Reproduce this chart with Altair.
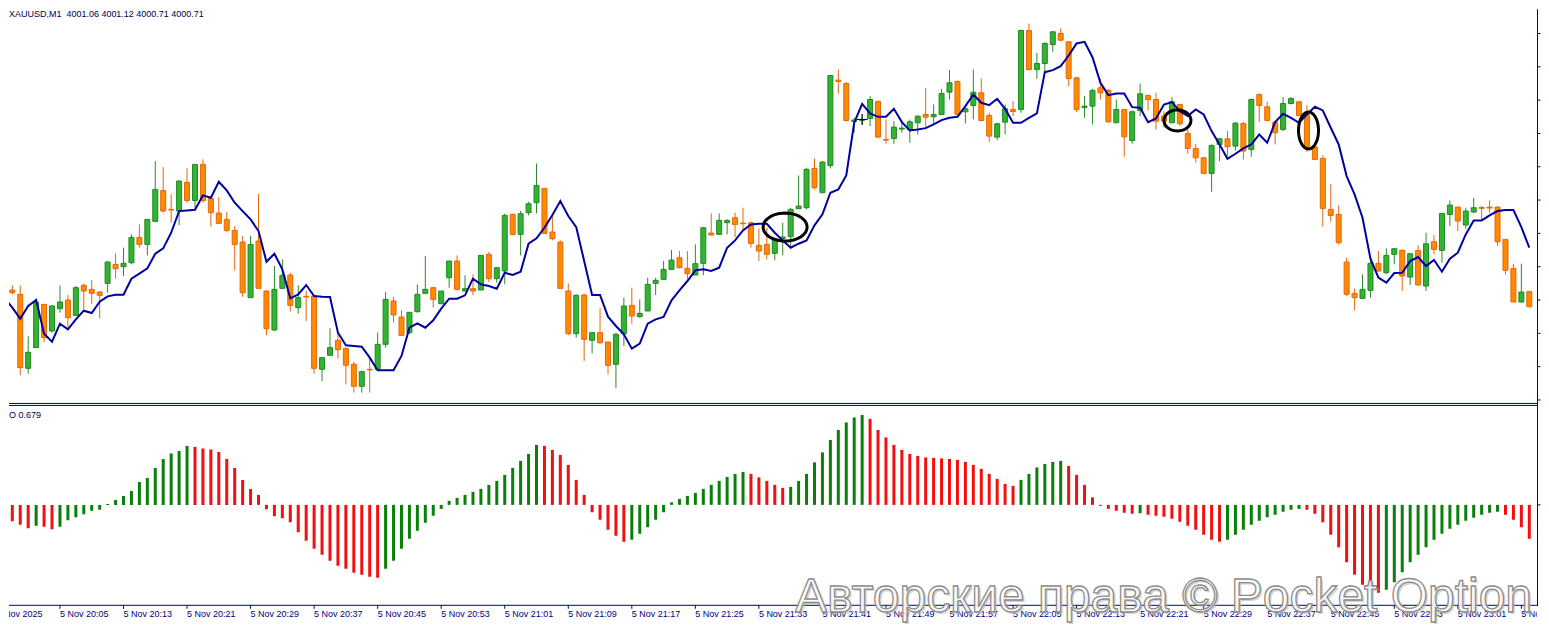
import math
import altair as alt
import pandas as pd
import numpy as np

# ---------------- data ----------------
candle_index = list(range(-1, 192))   # one candle per minute, index 0 = 19:59

opens = [
    4000.30, 4001.33, 4001.20, 3998.98, 3999.60, 4000.90, 4000.10, 4000.77, 4001.03, 4000.57,
    4001.47, 4001.35, 4001.27, 4001.53, 4002.10, 4002.03, 4002.15, 4002.91, 4002.70, 4003.39,
    4004.32, 4003.75, 4003.70, 4004.56, 4004.02, 4005.10, 4004.08, 4003.64, 4003.45, 4003.12,
    4002.77, 4001.10, 4002.80, 4001.30, 4000.13, 4001.38, 4001.78, 4000.80, 4001.14, 4001.15,
    3998.95, 3999.37, 3999.82, 3999.58, 3999.10, 3998.44, 3998.95, 3998.95, 3999.70, 4001.00,
    4000.52, 4000.05, 4000.68, 4001.23, 4001.40, 4000.92, 4001.70, 4002.20, 4001.30, 4001.37,
    4001.33, 4002.40, 4001.67, 4001.90, 4003.60, 4003.00, 4003.65, 4003.95, 4004.38, 4003.07,
    4002.77, 4001.30, 4000.02, 4001.18, 3999.82, 4000.05, 3999.77, 3999.10, 4000.02, 4000.87,
    4000.53, 4000.70, 4001.53, 4001.65, 4001.95, 4002.30, 4001.98, 4001.78, 4002.13, 4003.04,
    4003.00, 4003.35, 4003.50, 4003.34, 4003.35, 4002.67, 4002.70, 4002.43, 4002.88, 4002.93,
    4003.77, 4003.80, 4004.98, 4004.25, 4005.07, 4007.63, 4007.53, 4006.39, 4006.42, 4006.48,
    4006.99, 4005.85, 4005.88, 4006.16, 4006.15, 4006.35, 4006.60, 4006.53, 4006.60, 4007.27,
    4007.59, 4006.68, 4006.87, 4007.25, 4006.57, 4005.92, 4006.37, 4006.75, 4006.75, 4009.12,
    4007.95, 4008.13, 4008.70, 4009.03, 4008.78, 4007.70, 4006.81, 4006.85, 4007.40, 4007.32,
    4006.35, 4006.75, 4005.82, 4006.72, 4007.17, 4007.05, 4006.55, 4006.35, 4006.90, 4006.03,
    4005.58, 4005.30, 4004.83, 4005.70, 4005.87, 4005.65, 4006.33, 4005.55, 4007.20, 4006.83,
    4006.37, 4006.15, 4006.93, 4006.98, 4006.60, 4005.62, 4005.28, 4003.75, 4003.60, 4002.17,
    4001.23, 4001.08, 4001.32, 4002.13, 4001.85, 4002.40, 4002.52, 4001.72, 4002.52, 4001.45,
    4002.78, 4002.52, 4003.60, 4003.82, 4003.28, 4003.67, 4003.81, 4003.82, 4003.82, 4002.85,
    4001.98, 4000.97, 4001.28,
]
highs = [
    4001.25, 4001.47, 4001.47, 3999.94, 4001.05, 4000.90, 4000.88, 4001.47, 4001.18, 4001.45,
    4001.53, 4001.63, 4001.30, 4002.20, 4002.43, 4002.60, 4003.00, 4003.30, 4003.45, 4005.20,
    4005.02, 4004.20, 4004.63, 4004.98, 4005.10, 4005.25, 4004.13, 4004.12, 4003.67, 4003.25,
    4002.95, 4002.95, 4004.22, 4001.32, 4002.05, 4002.25, 4001.85, 4001.47, 4001.30, 4001.17,
    3999.30, 4000.18, 4000.05, 3999.60, 3999.17, 3998.90, 3999.30, 4000.05, 4001.27, 4001.13,
    4000.72, 4000.66, 4001.50, 4002.35, 4001.42, 4001.30, 4002.20, 4002.37, 4001.77, 4001.80,
    4002.37, 4002.47, 4002.00, 4003.62, 4003.62, 4003.70, 4003.98, 4005.13, 4004.38, 4003.55,
    4002.82, 4001.53, 4001.20, 4001.22, 4000.05, 4000.78, 3999.77, 4000.05, 4001.10, 4001.40,
    4001.05, 4001.70, 4001.70, 4002.20, 4002.53, 4002.50, 4002.50, 4002.70, 4003.22, 4003.63,
    4003.63, 4003.45, 4003.65, 4003.80, 4003.38, 4003.17, 4003.20, 4002.90, 4003.35, 4003.80,
    4004.77, 4005.00, 4005.28, 4005.20, 4007.77, 4007.95, 4007.57, 4006.50, 4006.60, 4007.15,
    4007.02, 4006.45, 4006.40, 4006.43, 4006.45, 4006.57, 4007.40, 4006.90, 4007.37, 4007.93,
    4007.62, 4006.85, 4007.95, 4007.68, 4006.65, 4006.35, 4006.90, 4007.00, 4009.15, 4009.33,
    4008.45, 4008.77, 4009.10, 4009.18, 4008.80, 4007.72, 4007.15, 4007.37, 4007.68, 4007.37,
    4007.05, 4006.75, 4006.72, 4007.53, 4007.20, 4007.25, 4006.70, 4007.12, 4006.92, 4006.15,
    4005.72, 4005.32, 4005.70, 4005.90, 4006.10, 4006.38, 4006.37, 4007.08, 4007.23, 4006.98,
    4006.40, 4007.12, 4007.12, 4007.00, 4006.88, 4005.65, 4005.37, 4004.50, 4003.87, 4002.30,
    4001.37, 4001.80, 4002.20, 4002.50, 4002.58, 4002.58, 4002.55, 4002.42, 4002.67, 4003.05,
    4002.98, 4003.63, 4004.02, 4003.83, 4003.80, 4004.10, 4003.85, 4004.02, 4003.85, 4002.85,
    4002.12, 4002.12, 4001.30,
]
lows = [
    4000.10, 4001.20, 3998.77, 3998.82, 3999.60, 3999.77, 4000.05, 4000.65, 4000.20, 4000.55,
    4000.75, 4000.92, 4000.48, 4001.25, 4001.67, 4001.75, 4002.10, 4002.60, 4002.37, 4003.39,
    4003.65, 4003.35, 4003.28, 4003.95, 4003.80, 4003.95, 4003.23, 4003.32, 4003.07, 4001.92,
    4001.13, 4001.10, 4001.38, 3999.97, 4000.10, 4001.38, 4000.68, 4000.62, 4000.40, 3998.82,
    3998.60, 3999.37, 3999.27, 3998.50, 3998.25, 3998.25, 3998.25, 3998.95, 3999.60, 4000.35,
    3999.97, 4000.00, 4000.65, 4001.23, 4000.80, 4000.90, 4001.40, 4001.32, 4001.30, 4001.17,
    4001.33, 4001.57, 4001.55, 4001.50, 4002.97, 4002.37, 4003.57, 4003.63, 4003.03, 4002.82,
    4001.38, 3999.97, 3999.90, 3999.20, 3999.43, 3999.70, 3998.80, 3998.38, 3999.65, 4000.32,
    4000.50, 4000.70, 4001.18, 4001.65, 4001.95, 4001.98, 4001.65, 4001.78, 4001.77, 4002.97,
    4003.00, 4003.00, 4002.92, 4003.13, 4002.60, 4002.20, 4002.25, 4002.22, 4002.37, 4002.65,
    4003.77, 4003.75, 4004.35, 4004.25, 4004.98, 4007.22, 4006.40, 4006.05, 4006.30, 4006.25,
    4005.90, 4005.72, 4005.72, 4006.05, 4005.75, 4006.00, 4006.22, 4006.28, 4006.59, 4007.05,
    4006.58, 4006.33, 4006.45, 4006.40, 4005.77, 4005.83, 4006.00, 4006.55, 4006.65, 4007.95,
    4007.67, 4007.90, 4008.48, 4008.80, 4007.45, 4006.67, 4006.50, 4006.30, 4007.05, 4006.35,
    4006.35, 4005.33, 4005.72, 4006.55, 4006.73, 4006.15, 4006.20, 4006.35, 4006.25, 4005.42,
    4005.15, 4004.83, 4004.28, 4005.20, 4005.35, 4005.52, 4005.25, 4005.33, 4006.38, 4006.40,
    4005.70, 4006.10, 4006.90, 4006.55, 4005.48, 4005.23, 4003.23, 4003.38, 4002.70, 4001.15,
    4000.72, 4001.08, 4001.10, 4001.88, 4001.80, 4002.10, 4001.30, 4001.48, 4001.48, 4001.30,
    4002.40, 4002.15, 4003.25, 4003.10, 4003.17, 4003.65, 4003.45, 4003.65, 4002.65, 4001.80,
    4000.97, 4000.95, 4000.80,
]
closes = [
    4001.10, 4001.25, 3999.00, 3999.46, 4000.95, 3999.90, 4000.85, 4000.97, 4000.50, 4001.40,
    4001.30, 4001.23, 4001.17, 4002.17, 4001.97, 4002.13, 4002.91, 4002.70, 4003.45, 4004.35,
    4003.70, 4003.73, 4004.60, 4004.02, 4005.10, 4004.02, 4003.65, 4003.33, 4003.12, 4002.70,
    4001.25, 4002.70, 4001.38, 4000.17, 4001.35, 4001.77, 4000.87, 4001.10, 4001.12, 3998.98,
    3999.30, 3999.60, 3999.54, 3999.07, 3998.44, 3998.88, 3998.93, 3999.70, 4001.05, 4000.58,
    3999.97, 4000.66, 4001.20, 4001.35, 4001.05, 4001.30, 4002.20, 4001.35, 4001.37, 4001.30,
    4002.37, 4001.67, 4002.00, 4003.57, 4003.00, 4003.62, 4003.92, 4004.47, 4003.03, 4002.87,
    4001.38, 4000.02, 4001.17, 3999.85, 4000.05, 3999.75, 3999.07, 4000.00, 4000.85, 4000.55,
    4000.63, 4001.50, 4001.62, 4001.95, 4002.23, 4002.00, 4001.82, 4002.12, 4003.20, 4002.98,
    4003.42, 4003.42, 4003.30, 4003.32, 4002.73, 4002.50, 4002.40, 4002.87, 4002.92, 4003.75,
    4003.85, 4004.95, 4004.40, 4005.17, 4007.77, 4007.59, 4006.42, 4006.43, 4006.45, 4007.05,
    4005.92, 4005.83, 4006.22, 4006.19, 4006.38, 4006.55, 4006.52, 4006.60, 4007.23, 4007.55,
    4006.60, 4006.77, 4007.27, 4006.42, 4005.95, 4006.32, 4006.77, 4006.69, 4009.12, 4007.95,
    4008.13, 4008.73, 4009.08, 4008.83, 4007.68, 4006.75, 4006.85, 4007.32, 4007.25, 4006.38,
    4006.75, 4005.93, 4006.68, 4007.22, 4007.05, 4006.40, 4006.40, 4006.98, 4006.32, 4005.58,
    4005.30, 4004.83, 4005.67, 4005.87, 4005.63, 4006.34, 4005.50, 4007.05, 4006.87, 4006.42,
    4006.05, 4006.93, 4007.08, 4006.57, 4005.60, 4005.25, 4003.78, 4003.57, 4002.75, 4001.20,
    4001.10, 4001.35, 4002.13, 4001.90, 4002.37, 4002.57, 4001.75, 4002.42, 4001.48, 4002.72,
    4002.55, 4003.63, 4003.88, 4003.40, 4003.70, 4003.80, 4003.78, 4003.79, 4002.78, 4001.92,
    4000.97, 4001.27, 4000.83,
]
ma_line = [
    4001.10, 4000.80, 4000.47, 4000.85, 4001.03, 4000.02, 3999.78, 4000.32, 4000.15, 4000.45,
    4000.71, 4000.64, 4000.98, 4001.14, 4001.19, 4001.19, 4001.67, 4001.82, 4001.98, 4002.42,
    4002.58, 4003.05, 4003.70, 4003.72, 4003.74, 4004.17, 4004.10, 4004.58, 4004.32, 4003.95,
    4003.70, 4003.45, 4003.10, 4002.18, 4002.42, 4001.95, 4001.08, 4001.20, 4001.48, 4001.15,
    4001.13, 4001.12, 4000.05, 3999.67, 3999.65, 3999.63, 3999.30, 3998.92, 3998.92, 3998.92,
    3999.35, 4000.20, 4000.33, 4000.20, 4000.42, 4000.77, 4001.07, 4001.07, 4001.17, 4001.67,
    4001.50, 4001.45, 4001.37, 4001.85, 4001.78, 4001.88, 4002.72, 4002.88, 4003.20, 4003.58,
    4004.00, 4003.55, 4003.22, 4002.20, 4001.18, 4001.18, 4000.53, 4000.25, 4000.00, 3999.57,
    3999.72, 4000.32, 4000.45, 4000.52, 4001.02, 4001.32, 4001.60, 4001.92, 4001.95, 4001.90,
    4002.00, 4002.60, 4002.82, 4003.12, 4003.30, 4003.32, 4003.32, 4003.05, 4002.82, 4002.60,
    4002.72, 4002.82, 4003.27, 4003.60, 4004.25, 4004.35, 4004.77, 4006.35, 4006.92, 4006.63,
    4006.53, 4006.53, 4006.77, 4006.37, 4006.12, 4006.15, 4006.19, 4006.30, 4006.43, 4006.50,
    4006.53, 4006.85, 4007.20, 4006.95, 4006.88, 4007.07, 4006.77, 4006.35, 4006.35, 4006.50,
    4006.63, 4007.87, 4007.93, 4008.05, 4008.37, 4008.73, 4008.78, 4008.32, 4007.55, 4007.18,
    4007.23, 4007.23, 4006.82, 4006.80, 4006.37, 4006.48, 4006.90, 4006.97, 4006.70, 4006.55,
    4006.75, 4006.60, 4006.10, 4005.70, 4005.27, 4005.42, 4005.58, 4005.70, 4006.00, 4005.75,
    4006.37, 4006.62, 4006.50, 4006.35, 4006.60, 4006.83, 4006.72, 4006.20, 4005.70, 4004.75,
    4004.20, 4003.50, 4002.27, 4001.70, 4001.55, 4001.84, 4001.85, 4002.20, 4002.32, 4002.05,
    4002.23, 4001.88, 4002.27, 4002.45, 4003.00, 4003.42, 4003.42, 4003.57, 4003.70, 4003.73,
    4003.73, 4003.22, 4002.60,
]
ao_values = [
    -0.28, -0.33, -0.40, -0.47, -0.42, -0.44, -0.49, -0.44, -0.31, -0.25,
    -0.19, -0.12, -0.10, 0.02, 0.10, 0.18, 0.28, 0.46, 0.54, 0.74,
    0.92, 1.03, 1.08, 1.18, 1.16, 1.13, 1.11, 1.06, 0.92, 0.74,
    0.50, 0.32, 0.20, -0.09, -0.23, -0.27, -0.35, -0.55, -0.72, -0.88,
    -1.00, -1.12, -1.22, -1.28, -1.36, -1.40, -1.44, -1.46, -1.28, -1.12,
    -0.88, -0.68, -0.52, -0.36, -0.22, -0.08, 0.08, 0.14, 0.20, 0.26,
    0.32, 0.40, 0.48, 0.60, 0.74, 0.88, 1.02, 1.20, 1.18, 1.10,
    1.00, 0.80, 0.50, 0.20, -0.15, -0.30, -0.50, -0.62, -0.74, -0.70,
    -0.58, -0.45, -0.30, -0.15, 0.05, 0.12, 0.18, 0.24, 0.32, 0.40,
    0.48, 0.56, 0.62, 0.66, 0.62, 0.55, 0.48, 0.40, 0.34, 0.36,
    0.48, 0.62, 0.85, 1.05, 1.30, 1.50, 1.65, 1.75, 1.80, 1.72,
    1.50, 1.35, 1.20, 1.10, 1.02, 0.98, 0.95, 0.94, 0.93, 0.92,
    0.90, 0.86, 0.80, 0.72, 0.62, 0.52, 0.42, 0.38, 0.50, 0.62,
    0.75, 0.82, 0.86, 0.88, 0.78, 0.60, 0.40, 0.15, -0.02, -0.08,
    -0.12, -0.16, -0.18, -0.17, -0.20, -0.22, -0.24, -0.28, -0.34, -0.42,
    -0.50, -0.60, -0.70, -0.74, -0.70, -0.60, -0.50, -0.40, -0.32, -0.25,
    -0.20, -0.14, -0.10, -0.08, -0.10, -0.18, -0.35, -0.60, -0.85, -1.15,
    -1.40, -1.60, -1.72, -1.76, -1.70, -1.55, -1.35, -1.15, -1.00, -0.85,
    -0.70, -0.58, -0.48, -0.40, -0.32, -0.26, -0.20, -0.16, -0.14, -0.20,
    -0.30, -0.45, -0.68,
]

tick_positions = [-2] + [6 + 8 * k for k in range(24)]
tick_labels = [
    "5 Nov 2025",
    "5 Nov 20:05", "5 Nov 20:13", "5 Nov 20:21", "5 Nov 20:29", "5 Nov 20:37", "5 Nov 20:45",
    "5 Nov 20:53", "5 Nov 21:01", "5 Nov 21:09", "5 Nov 21:17", "5 Nov 21:25", "5 Nov 21:33",
    "5 Nov 21:41", "5 Nov 21:49", "5 Nov 21:57", "5 Nov 22:05", "5 Nov 22:13", "5 Nov 22:21",
    "5 Nov 22:29", "5 Nov 22:37", "5 Nov 22:45", "5 Nov 22:53", "5 Nov 23:01", "5 Nov 23:09",
]
price_ticks = [3998.03, 3999.03, 4000.03, 4001.03, 4002.03, 4003.03,
               4004.03, 4005.03, 4006.03, 4007.03, 4008.03, 4009.03]
ao_ticks = [0.0]

ellipse_index = [97.3, 146.7, 163.2]
ellipse_price = [4003.22, 4006.42, 4006.12]
cursor_index = [107]
cursor_price = [4006.45]

title_text = "XAUUSD,M1\u00a0 4001.06 4001.12 4000.71 4000.71"
ao_text = "AO 0.679"
watermark_text = "Авторские права © Pocket Option"

# ---------------- styles / layout ----------------
NAVY = "#000080"
BULL_FILL, BULL_EDGE, BULL_WICK = "#33b233", "#1f8a1f", "#2a8a2a"
BEAR_FILL, BEAR_EDGE, BEAR_WICK = "#ff8a00", "#e8650a", "#e8650a"
AO_UP, AO_DOWN = "#0a7f0a", "#f01010"
LINE_COLOR = "#0000a0"
FONT = "Liberation Sans"
W, H = 1529, 614                       # one plot area holding both panels and the time strip
X_DOMAIN = [0.2125, 191.34]
PRICE_DOMAIN = [3991.34, 4009.76]      # price panel occupies the upper 394 px
AO_DOMAIN = [-2.36, 9.92]              # AO panel occupies 396..596 px, zero at 496 px
Y_PRICE_BOTTOM, Y_AO_TOP, Y_AXIS = 394.5, 396.5, 596.5
ELLIPSE_STYLE = [(44, 28), (27, 21), (20, 37)]  # width, height in px


def ellipse_path(w, h, n=48):
    d = max(w, h)
    rx, ry = w / d, h / d
    pts = [(rx * math.cos(2 * math.pi * k / n), ry * math.sin(2 * math.pi * k / n)) for k in range(n)]
    return "M " + " L ".join(f"{x:.3f} {y:.3f}" for x, y in pts) + " Z", d * d


df = pd.DataFrame({
    "i": candle_index, "open": opens, "high": highs, "low": lows, "close": closes,
    "ma": ma_line, "ao": ao_values,
})
df["dir"] = np.where(df["close"] >= df["open"], "up", "down")
df["ao_dir"] = np.where(df["ao"].diff().fillna(0) > 0, "up", "down")

xs = alt.Scale(domain=X_DOMAIN, nice=False, zero=False)
ys = alt.Scale(domain=PRICE_DOMAIN, nice=False, zero=False)
ays = alt.Scale(domain=AO_DOMAIN, nice=False, zero=False)
dir_dom = ["up", "down"]
one_row = pd.DataFrame({"k": [0]})
X = alt.X("i:Q", scale=xs, axis=None)

base = alt.Chart(df)

# ---- AO histogram ----
ao_bars = base.mark_rule(strokeWidth=3, clip=True).encode(
    x=X, y=alt.Y("ao:Q", scale=ays, axis=None), y2=alt.datum(0),
    color=alt.Color("ao_dir:N", scale=alt.Scale(domain=dir_dom, range=[AO_UP, AO_DOWN]), legend=None),
)

# ---- candles + line ----
wicks = base.mark_rule(strokeWidth=1, clip=True).encode(
    x=X, y=alt.Y("low:Q", scale=ys, axis=None), y2="high:Q",
    color=alt.Color("dir:N", scale=alt.Scale(domain=dir_dom, range=[BULL_WICK, BEAR_WICK]), legend=None),
)
bodies = base.mark_bar(width=5, strokeWidth=1, clip=True).encode(
    x=X, y=alt.Y("open:Q", scale=ys, axis=None), y2="close:Q",
    fill=alt.Fill("dir:N", scale=alt.Scale(domain=dir_dom, range=[BULL_FILL, BEAR_FILL]), legend=None),
    stroke=alt.Stroke("dir:N", scale=alt.Scale(domain=dir_dom, range=[BULL_EDGE, BEAR_EDGE]), legend=None),
)
line = base.mark_line(color=LINE_COLOR, strokeWidth=2, clip=True).encode(
    x=X, y=alt.Y("ma:Q", scale=ys, axis=None),
)

ell_layers = []
for k in range(len(ellipse_index)):
    path, size = ellipse_path(*ELLIPSE_STYLE[k])
    edf = pd.DataFrame({"i": [ellipse_index[k]], "p": [ellipse_price[k]]})
    ell_layers.append(
        alt.Chart(edf).mark_point(shape=path, size=size, filled=False, color="black",
                                  strokeWidth=3, opacity=1, clip=True).encode(
            x=X, y=alt.Y("p:Q", scale=ys, axis=None))
    )
cursor = alt.Chart(pd.DataFrame({"i": cursor_index, "p": cursor_price})).mark_point(
    shape="M -1 0 L 1 0 M 0 -1 L 0 1", size=121, filled=False, color="black",
    strokeWidth=1, opacity=1, clip=True).encode(x=X, y=alt.Y("p:Q", scale=ys, axis=None))

# ---- frame lines and ticks ----
def hline(y):
    return alt.Chart(one_row).mark_rule(color=NAVY, strokeWidth=1).encode(
        x=alt.value(0), x2=alt.value(W + 1), y=alt.value(y))

right_line = alt.Chart(one_row).mark_rule(color=NAVY, strokeWidth=1).encode(
    x=alt.value(W + 0.5), y=alt.value(0), y2=alt.value(Y_AXIS + 0.5))
price_tick_marks = alt.Chart(pd.DataFrame({"p": price_ticks})).mark_rule(color=NAVY, strokeWidth=1).encode(
    x=alt.value(W + 0.5), x2=alt.value(W + 3.5), y=alt.Y("p:Q", scale=ys, axis=None))
ao_tick_marks = alt.Chart(pd.DataFrame({"v": ao_ticks})).mark_rule(color=NAVY, strokeWidth=1).encode(
    x=alt.value(W + 0.5), x2=alt.value(W + 3.5), y=alt.Y("v:Q", scale=ays, axis=None))
lab_df = pd.DataFrame({"i": tick_positions, "t": tick_labels})
time_ticks = alt.Chart(lab_df).mark_rule(color=NAVY, strokeWidth=1, clip=True).encode(
    x=X, y=alt.value(Y_AXIS), y2=alt.value(Y_AXIS + 3.5))
time_labels = alt.Chart(lab_df).mark_text(
    align="left", baseline="middle", font=FONT, fontSize=9, color=NAVY, clip=True).encode(
    x=X, y=alt.value(605.5), text="t:N")

# ---- texts ----
title = alt.Chart(pd.DataFrame({"t": [title_text]})).mark_text(
    align="left", baseline="middle", font=FONT, fontSize=9, color="#000050").encode(
    x=alt.value(0), y=alt.value(4.5), text="t:N")
ao_label = alt.Chart(pd.DataFrame({"t": [ao_text]})).mark_text(
    align="left", baseline="middle", font=FONT, fontSize=9, color="#000050", clip=True).encode(
    x=alt.value(-6), y=alt.value(405.7), text="t:N")
wm_df = pd.DataFrame({"t": [watermark_text]})
wm_shadow = alt.Chart(wm_df).mark_text(
    align="right", baseline="alphabetic", font=FONT, fontSize=48,
    fill="#b8b8b8", fillOpacity=0.6).encode(x=alt.value(1526), y=alt.value(605), text="t:N")
wm = alt.Chart(wm_df).mark_text(
    align="right", baseline="alphabetic", font=FONT, fontSize=48,
    fill="#ffffff", fillOpacity=0.85, stroke="#8c8c8c", strokeWidth=1.3).encode(
    x=alt.value(1524), y=alt.value(603), text="t:N")

chart = alt.layer(
    ao_bars, wicks, bodies, line, *ell_layers, cursor,
    hline(Y_PRICE_BOTTOM), hline(Y_AO_TOP), hline(Y_AXIS), right_line,
    price_tick_marks, ao_tick_marks, time_ticks, time_labels,
    title, ao_label, wm_shadow, wm,
).resolve_scale(y="independent", color="independent").properties(
    width=W, height=H, padding=0, background="white").configure_view(stroke=None)

chart.save("out.html", embed_options={"renderer": "svg", "actions": False})
